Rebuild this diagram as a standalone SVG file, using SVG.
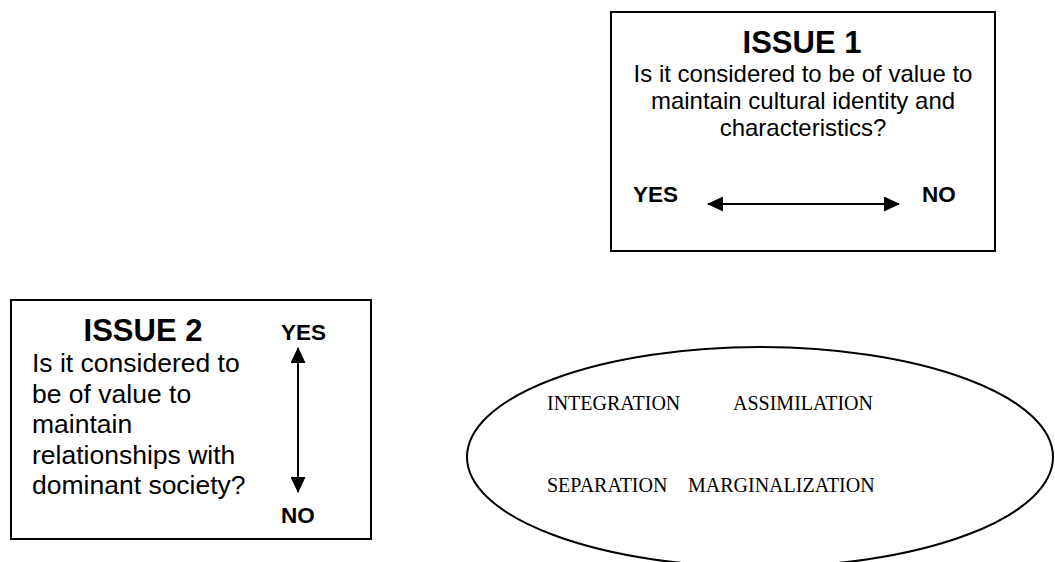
<svg xmlns="http://www.w3.org/2000/svg" width="1055" height="562" viewBox="0 0 1055 562">
<defs>
<style>
.box{fill:#fff;stroke:#000;stroke-width:2}
.h{font-family:"Liberation Sans",Arial,sans-serif;font-weight:bold;font-size:31px;fill:#000}
.b{font-family:"Liberation Sans",Arial,sans-serif;font-size:24px;fill:#000}
.b2{font-family:"Liberation Sans",Arial,sans-serif;font-size:26.5px;fill:#000}
.yn{font-family:"Liberation Sans",Arial,sans-serif;font-weight:bold;font-size:22.5px;fill:#000}
.t{font-family:"Liberation Serif","Times New Roman",serif;font-size:20px;fill:#000}
.ln{stroke:#000;stroke-width:2;fill:none}
</style>
<marker id="ah" viewBox="0 0 16 15" refX="15" refY="7.5" markerWidth="16" markerHeight="15" markerUnits="userSpaceOnUse" orient="auto-start-reverse">
<path d="M0,0 L16,7.5 L0,15 Z" fill="#000"/>
</marker>
</defs>
<rect width="1055" height="562" fill="#fff"/>
<g id="issue1">
<rect class="box" x="611" y="12" width="384" height="239"/>
<text class="h" x="802" y="52.5" text-anchor="middle">ISSUE 1</text>
<text class="b" x="803" y="82" text-anchor="middle">Is it considered to be of value to</text>
<text class="b" x="803" y="109" text-anchor="middle">maintain cultural identity and</text>
<text class="b" x="803" y="136" text-anchor="middle">characteristics?</text>
<text class="yn" x="633" y="202">YES</text>
<text class="yn" x="922" y="202">NO</text>
</g>
<g id="issue2">
<rect class="box" x="11" y="300" width="360" height="239"/>
<text class="h" x="143" y="340.5" text-anchor="middle">ISSUE 2</text>
<text class="b2" x="32" y="372">Is it considered to</text>
<text class="b2" x="32" y="402.5">be of value to</text>
<text class="b2" x="32" y="433">maintain</text>
<text class="b2" x="32" y="463.5">relationships with</text>
<text class="b2" x="32" y="494">dominant society?</text>
<text class="yn" x="281" y="340">YES</text>
<text class="yn" x="281" y="522.5">NO</text>
</g>
<g id="strategies">
<ellipse cx="760" cy="457" rx="293" ry="110" fill="none" stroke="#000" stroke-width="2"/>
<text class="t" x="547" y="410">INTEGRATION</text>
<text class="t" x="733" y="410">ASSIMILATION</text>
<text class="t" x="547" y="492">SEPARATION</text>
<text class="t" x="688" y="492">MARGINALIZATION</text>
</g>
<g id="connectors">
<line class="ln" x1="708" y1="204" x2="899" y2="204" marker-start="url(#ah)" marker-end="url(#ah)"/>
<line class="ln" x1="298" y1="348" x2="298" y2="492" marker-start="url(#ah)" marker-end="url(#ah)"/>
</g>
</svg>
